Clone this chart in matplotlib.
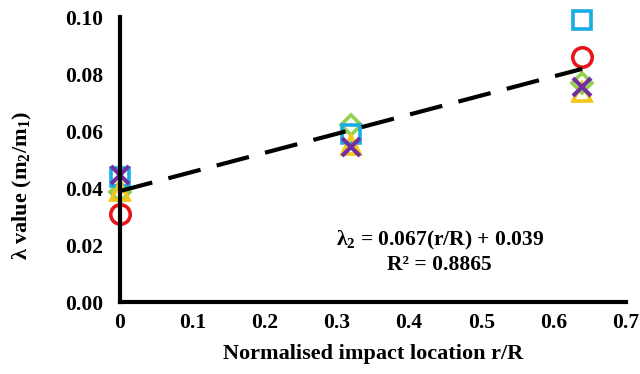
import numpy as np
import matplotlib.pyplot as plt

# Data
r_R = [0, 0.32, 0.64]
series_square = [0.044, 0.059, 0.099]
series_circle = [0.031, np.nan, 0.086]
series_diamond = [0.0387, 0.0623, 0.077]
series_triangle = [0.039, 0.055, 0.0736]
series_cross = [0.0447, 0.0546, 0.0754]

fit_slope = 0.067
fit_intercept = 0.039
fit_r2 = 0.8865

plt.rcParams["font.family"] = ["Liberation Serif", "DejaVu Serif"]
plt.rcParams["font.weight"] = "bold"
plt.rcParams["mathtext.default"] = "regular"

fig = plt.figure(figsize=(6.4, 3.74), dpi=100)
ax = fig.add_axes([0.1875, 0.192, 0.79, 0.762])

ms = 13
ew = 2.6
ax.plot(r_R, series_diamond, ls="none", marker="D", ms=ms * 0.8, mfc="none", mec="#92D050", mew=ew, clip_on=False)
ax.plot(r_R, series_square, ls="none", marker="s", ms=ms, mfc="none", mec="#1AADE4", mew=ew, clip_on=False)
ax.plot(r_R, series_triangle, ls="none", marker="^", ms=ms, mfc="none", mec="#F5C518", mew=ew, clip_on=False)
ax.plot(r_R, series_circle, ls="none", marker="o", ms=ms + 1, mfc="none", mec="#E8141B", mew=ew, clip_on=False)
ax.plot(r_R, series_cross, ls="none", marker="x", ms=ms, mec="#7030A0", mew=ew + 0.4, clip_on=False)

# Linear fit line
xs = np.array([r_R[0], r_R[-1]])
ax.plot(xs, fit_slope * xs + fit_intercept, color="black", lw=3, ls=(0, (8, 4)), clip_on=False)

ax.text(0.4425, 0.0218, "λ$_{2}$ = %.3f(r/R) + %.3f" % (fit_slope, fit_intercept),
        ha="center", va="center", fontsize=15.5, fontweight="bold")
ax.text(0.4425, 0.0130, "R² = %.4f" % fit_r2,
        ha="center", va="center", fontsize=15.5, fontweight="bold")

ax.set_xlim(0, 0.7)
ax.set_ylim(0, 0.10)
ax.set_xticks(np.arange(0, 0.71, 0.1))
ax.set_xticklabels(["0", "0.1", "0.2", "0.3", "0.4", "0.5", "0.6", "0.7"])
ax.set_yticks(np.arange(0, 0.101, 0.02))
ax.set_yticklabels(["%.2f" % v for v in np.arange(0, 0.101, 0.02)])
ax.tick_params(axis="x", length=0, labelsize=15.5, pad=8)
ax.tick_params(axis="y", length=0, labelsize=15.5, pad=12)
for lab in ax.get_xticklabels() + ax.get_yticklabels():
    lab.set_fontweight("bold")

for side in ["top", "right"]:
    ax.spines[side].set_visible(False)
for side in ["left", "bottom"]:
    ax.spines[side].set_linewidth(3)

ax.set_xlabel("Normalised impact location r/R", fontsize=16, fontweight="bold", labelpad=8)
ax.set_ylabel("λ value (m$_{2}$/m$_{1}$)", fontsize=16, fontweight="bold")
ax.yaxis.set_label_coords(-0.17, 0.41)

fig.savefig("out.png", dpi=100)
